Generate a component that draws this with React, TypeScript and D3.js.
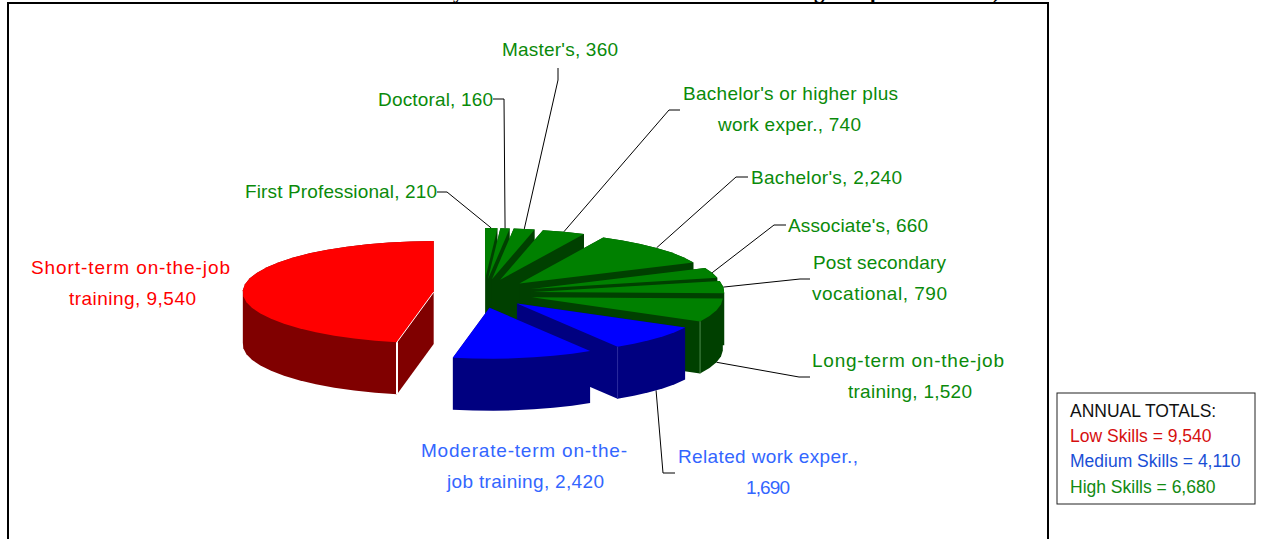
import React from "react"
import * as d3 from "d3"

// slices clockwise from 12 o'clock
const categories = [
  "First Professional",
  "Doctoral",
  "Master's",
  "Bachelor's or higher plus work exper.",
  "Bachelor's",
  "Associate's",
  "Post secondary vocational",
  "Long-term on-the-job training",
  "Related work exper.",
  "Moderate-term on-the-job training",
  "Short-term on-the-job training",
]
const values = [210, 160, 360, 740, 2240, 660, 790, 1520, 1690, 2420, 9540]
const skillGroups = ["high", "high", "high", "high", "high", "high", "high", "high", "medium", "medium", "low"]

const legendRows = [
  { text: "ANNUAL TOTALS:", group: "none" },
  { text: "Low Skills = 9,540", group: "low" },
  { text: "Medium Skills = 4,110", group: "medium" },
  { text: "High Skills = 6,680", group: "high" },
]

// label placement, same order as categories: text lines with [left, right, baseline]
const labelLayout = [
  { lines: [["First Professional, 210", 245, 437, 198]], elbow: [437, 447, 192] },
  { lines: [["Doctoral, 160", 378, 493, 106]], elbow: [493, 504, 99] },
  { lines: [["Master's, 360", 502, 618, 56]], elbow: [558, 558, 68, 80] },
  { lines: [["Bachelor's or higher plus", 683, 898, 100], ["work exper., 740", 718, 861, 131]], elbow: [680, 669, 110] },
  { lines: [["Bachelor's, 2,240", 751, 902, 184]], elbow: [748, 736, 177] },
  { lines: [["Associate's, 660", 788, 928, 232]], elbow: [786, 774, 225] },
  { lines: [["Post secondary", 813, 946, 269], ["vocational, 790", 812, 947, 300]], elbow: [810, 800, 279] },
  { lines: [["Long-term on-the-job", 812, 1004, 367], ["training, 1,520", 848, 972, 398]], elbow: [810, 799, 377] },
  { lines: [["Related work exper.,", 678, 858, 463], ["1,690", 746, 790, 494]], elbow: [675, 663, 473] },
  { lines: [["Moderate-term on-the-", 421, 627, 457], ["job training, 2,420", 447, 604, 488]], elbow: null },
  { lines: [["Short-term on-the-job", 31, 230, 274], ["training, 9,540", 69, 196, 305]], elbow: null },
]

// only the descenders of the title line are left on the page
const titleTails = [["y", 453], ["g", 814], ["p", 870], [")", 993]]

const topColor = d3.scaleOrdinal<string, string>().domain(["high", "medium", "low"]).range(["#008000", "#0000ff", "#ff0000"])
const wallColor = d3.scaleOrdinal<string, string>().domain(["high", "medium", "low"]).range(["#004000", "#000080", "#800000"])
const textColor = d3.scaleOrdinal<string, string>().domain(["high", "medium", "low", "none"]).range(["#0a8a0a", "#3366ff", "#ff0000", "#000000"])
const legendColor = d3.scaleOrdinal<string, string>().domain(["high", "medium", "low", "none"]).range(["#118a11", "#1a4fd6", "#d60f0f", "#111111"])
const edgeColor = { 7: "#4d8a4d", 8: "#2b2b9e", 10: "#ffffff" }
const edgeWidth = { 7: 1, 8: 1, 10: 2 }
// blue slices sit a bit further left in the original
const groupShift = { high: 0, medium: -3, low: 0 }

const cx = 483.5
const cy = 293.5
const rx = 191
const ry = 51
const depth = 52
const explodeX = 0.262
const explodeY = 0.284
const rimStep = (7 * Math.PI) / 180

const x = d3.scaleLinear().domain([-1, 1]).range([cx - rx, cx + rx])
const y = d3.scaleLinear().domain([-1, 1]).range([cy - ry, cy + ry])
const outline = d3.line<number[]>().x(d => d[0]).y(d => d[1])

const slices = d3.pie<number>().sort(null).value(d => d)(values).map((arc, i) => {
  const mid = (arc.startAngle + arc.endAngle) / 2
  const shift = groupShift[skillGroups[i]]
  // exploded apex, pie is squashed so y uses its own offset
  const ux = Math.sin(mid) * explodeX
  const uy = -Math.cos(mid) * explodeY
  const onRim = (a: number) => [x(ux + Math.sin(a)) + shift, y(uy - Math.cos(a))]
  const steps = Math.max(1, Math.ceil((arc.endAngle - arc.startAngle) / rimStep))
  const rim = d3.range(steps + 1).map(s => onRim(arc.startAngle + ((arc.endAngle - arc.startAngle) * s) / steps))
  return { i, mid, apex: [x(ux) + shift, y(uy)], rim, rimMid: onRim(mid), group: skillGroups[i] }
})

function Slice({ s }) {
  const poly = [s.apex, ...s.rim]
  // every slice is under 180 degrees, so the hull of top + bottom is its side silhouette
  const hull = d3.polygonHull([...poly, ...poly.map(p => [p[0], p[1] + depth])])
  const a = s.rim[0]
  const b = s.rim[s.rim.length - 1]
  const front = a[1] > b[1] ? a : b
  return (
    <g>
      <path d={outline(hull) + "Z"} fill={wallColor(s.group)} />
      <path d={outline(poly) + "Z"} fill={topColor(s.group)} />
      {edgeColor[s.i] && (
        <line
          x1={front[0]}
          y1={front[1]}
          x2={front[0]}
          y2={front[1] + depth}
          stroke={edgeColor[s.i]}
          strokeWidth={edgeWidth[s.i]}
        />
      )}
      {s.i === 10 && (
        <line x1={s.apex[0]} y1={s.apex[1]} x2={front[0]} y2={front[1]} stroke="#ffffff" strokeWidth={1} />
      )}
    </g>
  )
}

function Leader({ s, elbow }) {
  if (!elbow) return null
  // front slices get the line from the bottom of the wall
  const end = [s.rimMid[0], s.rimMid[1] + (Math.cos(s.mid) < -0.2 ? depth : 0)]
  const pts = elbow.length === 4
    ? [[elbow[0], elbow[2]], [elbow[1], elbow[3]], end]
    : [[elbow[0], elbow[2]], [elbow[1], elbow[2]], end]
  return <path d={outline(pts)} fill="none" stroke="#000" strokeWidth={1} />
}

export default function App() {
  const order = [...slices].sort((a, b) => Math.cos(b.mid) - Math.cos(a.mid))
  return (
    <svg
      width={1261}
      height={539}
      style={{ position: "fixed", left: 0, top: 0, background: "#fff", fontFamily: "'Liberation Sans', Arial, sans-serif" }}
    >
      {titleTails.map(([t, tx]) => (
        <text key={tx} x={tx} y={-2} fontFamily="'Liberation Serif'" fontWeight="bold" fontSize={21} fill="#000">
          {t}
        </text>
      ))}
      <path d="M8,539V3H1048V539" fill="none" stroke="#000" strokeWidth={2} />

      {slices.map((s, i) => (
        <Leader key={i} s={s} elbow={labelLayout[i].elbow} />
      ))}
      {order.map(s => (
        <Slice key={s.i} s={s} />
      ))}

      {labelLayout.map((lab, i) =>
        lab.lines.map(([t, left, right, base]) => (
          <text
            key={t}
            x={left}
            y={base}
            fontSize={19}
            textLength={right - left}
            lengthAdjust="spacing"
            fill={textColor(skillGroups[i])}
          >
            {t}
          </text>
        ))
      )}

      <rect x={1057} y={393} width={198} height={111} fill="#fff" stroke="#222" strokeWidth={1} />
      {legendRows.map((row, i) => (
        <text key={row.text} x={1070} y={[417, 442, 467, 493][i]} fontSize={17.5} fill={legendColor(row.group)}>
          {row.text}
        </text>
      ))}
    </svg>
  )
}
